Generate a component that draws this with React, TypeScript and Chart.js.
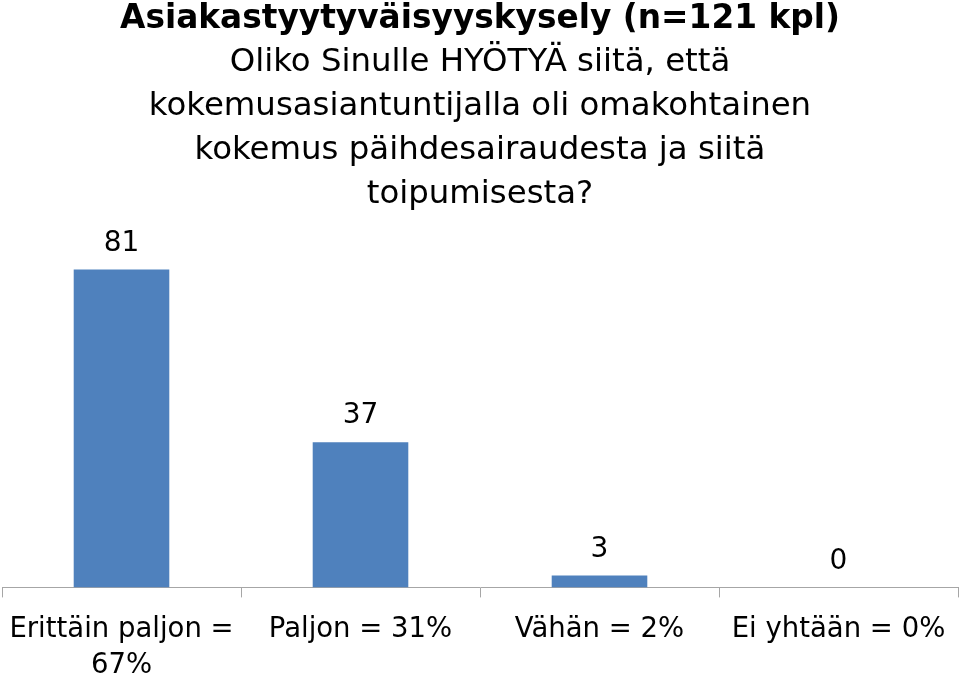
import React, { useEffect, useRef } from "react";
import { Chart, registerables } from "chart.js";

Chart.register(...registerables);

const categories: string[][] = [
  ["Erittäin paljon =", "67%"],
  ["Paljon = 31%"],
  ["Vähän = 2%"],
  ["Ei yhtään = 0%"],
];
const values: number[] = [81, 37, 3, 0];
const titleText = "Asiakastyytyväisyyskysely (n=121 kpl)";
const subtitleLines: string[] = [
  "Oliko Sinulle HYÖTYÄ siitä, että",
  "kokemusasiantuntijalla oli omakohtainen",
  "kokemus päihdesairaudesta ja siitä",
  "toipumisesta?",
];

const FONT = "'DejaVu Sans', Verdana, Tahoma, sans-serif";

const valueLabels = {
  id: "valueLabels",
  afterDatasetsDraw(chart: any) {
    const ctx = chart.ctx;
    const meta = chart.getDatasetMeta(0);
    ctx.save();
    ctx.font = `28px ${FONT}`;
    ctx.fillStyle = "#000";
    ctx.textAlign = "center";
    ctx.textBaseline = "middle";
    meta.data.forEach((el: any, i: number) => {
      ctx.fillText(String(values[i]), el.x, el.y - 26);
    });
    ctx.restore();
  },
};

export default function App() {
  const ref = useRef<HTMLCanvasElement | null>(null);
  useEffect(() => {
    document.body.style.margin = "0";
    const chart = new Chart(ref.current!, {
      type: "bar",
      data: {
        labels: categories,
        datasets: [
          {
            data: values,
            backgroundColor: "#4F81BD",
            borderWidth: 0,
            categoryPercentage: 0.8,
            barPercentage: 0.5,
          },
        ],
      },
      options: {
        animation: false,
        responsive: false,
        layout: { autoPadding: false, padding: { left: 2, right: 2, top: 0, bottom: 0 } },
        plugins: {
          legend: { display: false },
          tooltip: { enabled: false },
          title: {
            display: true,
            text: titleText,
            color: "#000",
            font: { family: FONT, size: 32.8, weight: "bold", lineHeight: 1.1 },
            padding: { top: 1, bottom: 0 },
          },
          subtitle: {
            display: true,
            text: subtitleLines,
            color: "#000",
            font: { family: FONT, size: 32.4, lineHeight: "44px" },
            padding: { top: 4, bottom: 10 },
          },
        },
        scales: {
          x: {
            afterFit: (scale: any) => {
              scale.paddingLeft = 0;
              scale.paddingRight = 0;
            },
            grid: {
              display: true,
              drawOnChartArea: false,
              drawTicks: true,
              tickLength: 10,
              color: "#A6A6A6",
              offset: true,
            },
            border: { display: true, color: "#A6A6A6", width: 1 },
            ticks: {
              color: "#000",
              font: { family: FONT, size: 27.5, lineHeight: 1.32 },
              padding: 14,
              maxRotation: 0,
              autoSkip: false,
            },
          },
          y: {
            display: false,
            min: 0,
            max: 91.8,
          },
        },
      },
      plugins: [valueLabels],
    });
    return () => chart.destroy();
  }, []);
  return (
    <div style={{ position: "absolute", left: 0, top: 0, width: 960, height: 678, overflow: "hidden" }}>
      <canvas ref={ref} width={960} height={698} style={{ width: 960, height: 698 }} />
    </div>
  );
}
